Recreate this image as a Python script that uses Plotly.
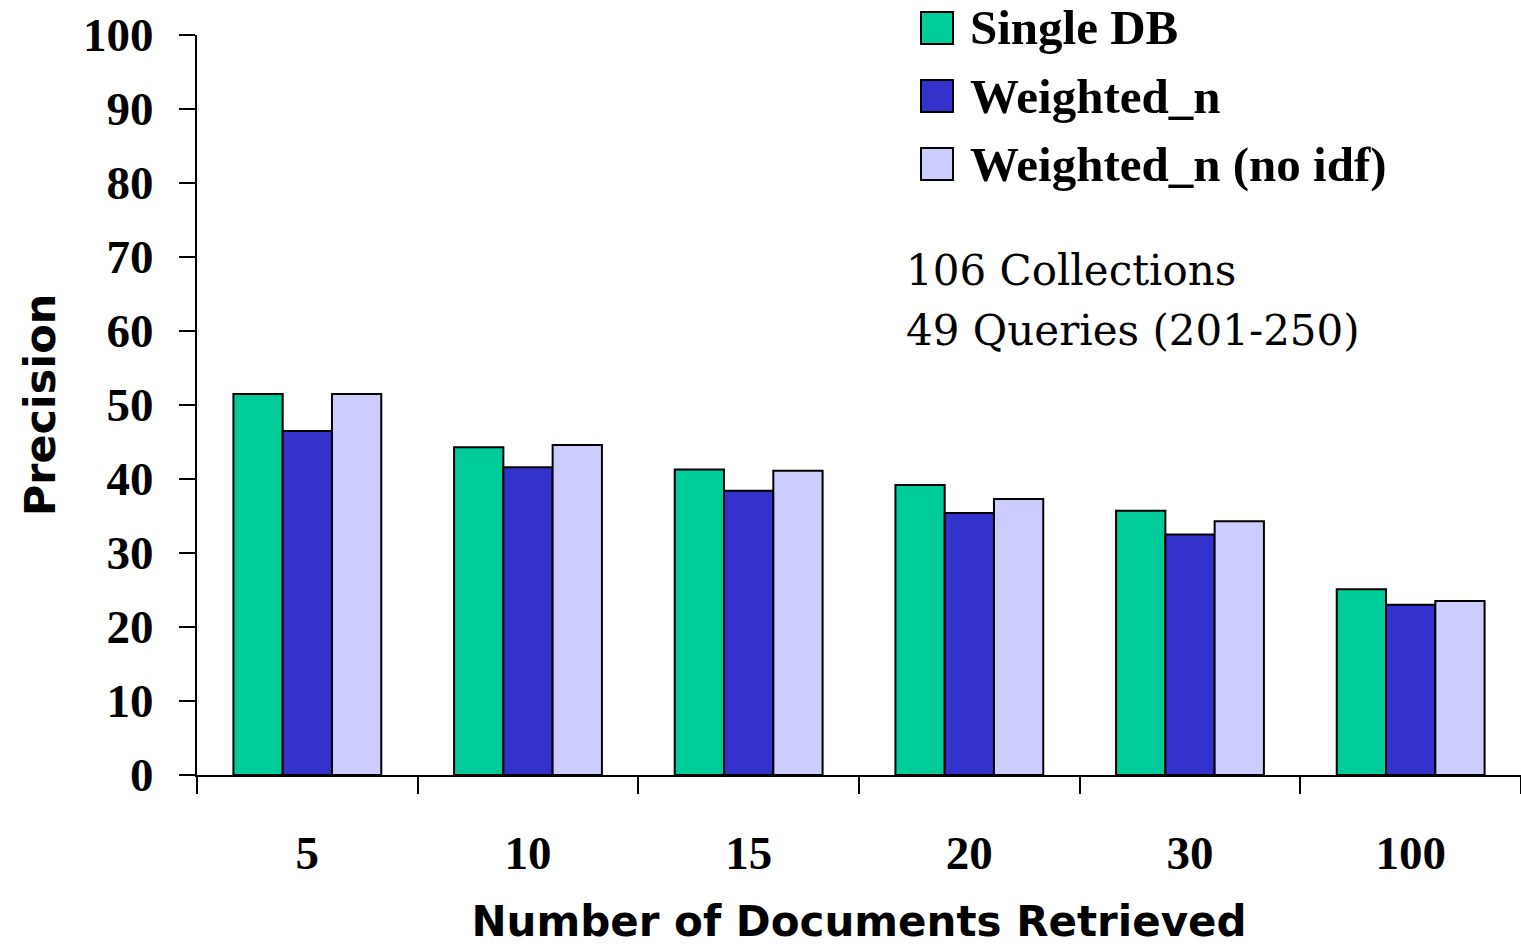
import plotly.graph_objects as go

# Number of documents retrieved (category axis)
categories = ["5", "10", "15", "20", "30", "100"]

# Precision values per method
single_db = [51.5, 44.3, 41.3, 39.2, 35.7, 25.1]
weighted_n = [46.5, 41.6, 38.4, 35.4, 32.5, 23.0]
weighted_n_noidf = [51.5, 44.6, 41.1, 37.3, 34.3, 23.5]

series_names = ["Single DB", "Weighted_n", "Weighted_n (no idf)"]
series_colors = ["#00CC99", "#3333CC", "#CCCCFF"]
series_values = [single_db, weighted_n, weighted_n_noidf]

y_ticks = list(range(0, 101, 10))

serif_bold = "Liberation Serif"
sans_bold = "DejaVu Sans"
fig = go.Figure()
for name, color, vals in zip(series_names, series_colors, series_values):
    fig.add_trace(go.Bar(
        x=categories, y=vals, name=name,
        marker=dict(color=color, line=dict(color="black", width=2)),
        showlegend=False,
    ))

# Legend drawn as swatches + labels in paper space
W, H = 1521, 946
ml, mr, mt, mb = 197, 0, 35, 171
pw, ph = W - ml - mr, H - mt - mb

def px_x(x):
    return (x - ml) / pw

def px_y(y):
    return (H - mb - y) / ph

legend_rows = [28, 96, 164]
for name, color, cy in zip(series_names, series_colors, legend_rows):
    fig.add_shape(type="rect", xref="paper", yref="paper",
                  x0=px_x(921), x1=px_x(953), y0=px_y(cy + 16), y1=px_y(cy - 16),
                  fillcolor=color, line=dict(color="black", width=2))
    fig.add_annotation(xref="paper", yref="paper", x=px_x(968), y=px_y(cy),
                       xanchor="left", yanchor="middle", showarrow=False,
                       text="<b>" + name + "</b>",
                       font=dict(family=serif_bold, size=49, color="black"))

info_lines = ["106 Collections", "49 Queries (201-250)"]
for line, cy in zip(info_lines, [270, 330]):
    fig.add_annotation(xref="paper", yref="paper", x=px_x(904), y=px_y(cy),
                       xanchor="left", yanchor="middle", showarrow=False,
                       text=line,
                       font=dict(family="DejaVu Serif", size=42, color="black"))

fig.update_layout(
    width=W, height=H,
    margin=dict(l=ml, r=mr, t=mt, b=mb, autoexpand=False),
    paper_bgcolor="white", plot_bgcolor="white",
    barmode="group", bargap=0.33, bargroupgap=0,
    font=dict(family=serif_bold, color="black"),
    xaxis=dict(
        type="category", showline=True, linecolor="black", linewidth=2,
        ticks="outside", tickson="boundaries", ticklen=17, tickwidth=2, tickcolor="black",
        tickfont=dict(family=serif_bold, size=47, weight="bold"),
        ticklabelstandoff=36,
        title=dict(text="Number of Documents Retrieved",
                   font=dict(family=sans_bold, size=42, weight="bold"),
                   standoff=36),
        showgrid=False, zeroline=False,
    ),
    yaxis=dict(
        range=[0, 100], tickvals=y_ticks, showline=True, linecolor="black", linewidth=2,
        ticks="outside", ticklen=16, tickwidth=2, tickcolor="black",
        tickfont=dict(family=serif_bold, size=47, weight="bold"),
        ticklabelstandoff=16,
        title=dict(text="Precision",
                   font=dict(family=sans_bold, size=43, weight="bold"),
                   standoff=14),
        showgrid=False, zeroline=False,
    ),
)

fig.write_html("out.html")
